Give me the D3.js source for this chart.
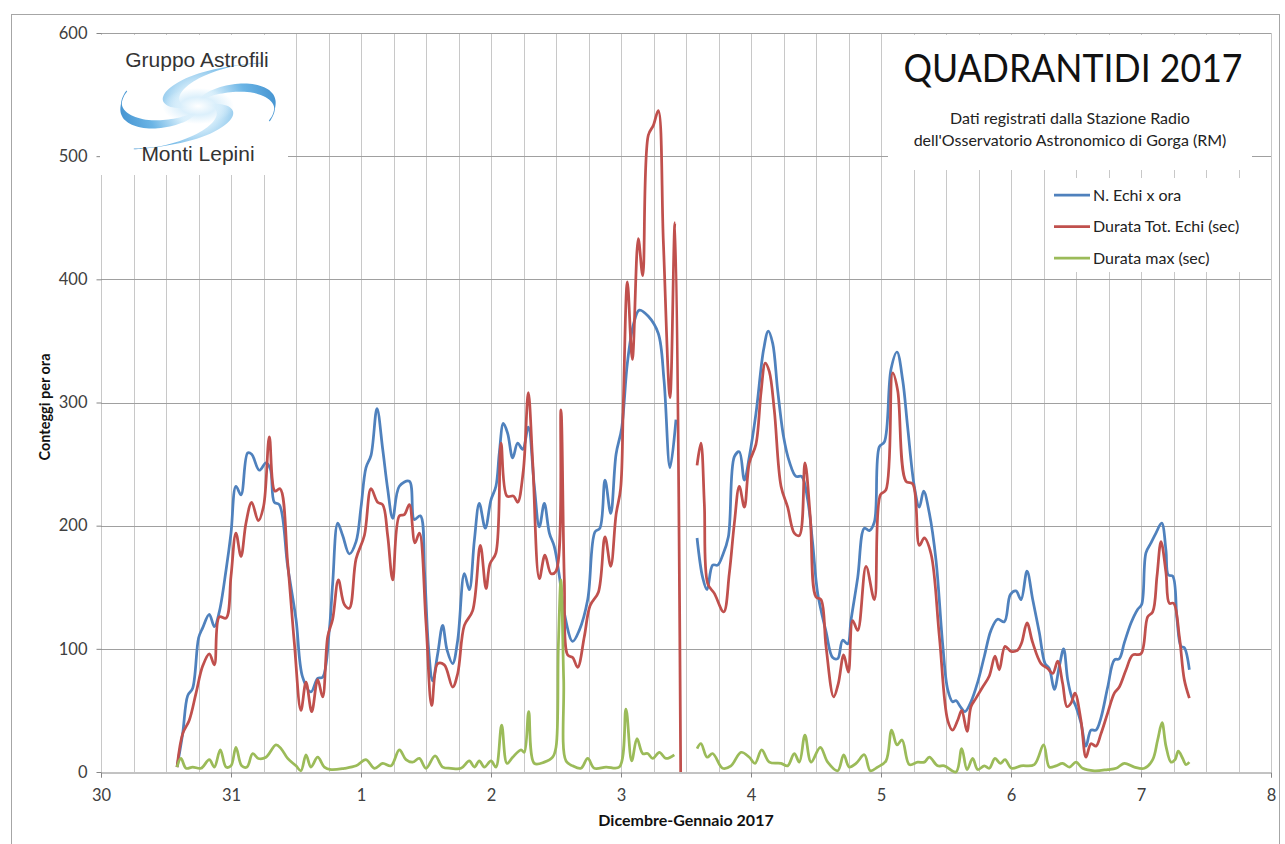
<!DOCTYPE html>
<html>
<head>
<meta charset="utf-8">
<script src="https://cdn.jsdelivr.net/npm/d3@7"></script>
<style>
  body { margin: 0; background: #fff; }
  svg { display: block; font-family: Lato, 'Open Sans', sans-serif; }
</style>
</head>
<body>
<div id="chart"></div>
<script>
// time = days since 30 Dec 00:00, value = counts per hour; null = gap in data
const dayLabels = ['30', '31', '1', '2', '3', '4', '5', '6', '7', '8'];
const yTicks = [0, 100, 200, 300, 400, 500, 600];
const seriesNames = ['N. Echi x ora', 'Durata Tot. Echi (sec)', 'Durata max (sec)'];
const seriesColors = ['#4f81bd', '#c0504d', '#9bbb59'];

const echi = [[0.585,4],[0.628,31],[0.667,62],[0.705,68],[0.751,109],[0.782,117],[0.833,128],[0.872,118],[0.91,130],[0.962,164],[1.0,194],[1.038,232],[1.077,225],[1.128,259],[1.159,258],[1.218,245],[1.269,251],[1.303,246],[1.333,219],[1.372,217],[1.436,167],[1.5,124],[1.551,77],[1.615,65],[1.667,76],[1.705,77],[1.756,115],[1.782,153],[1.821,202],[1.859,192],[1.91,177],[1.962,187],[2.0,215],[2.038,247],[2.077,257],[2.123,295],[2.167,262],[2.205,230],[2.244,206],[2.295,232],[2.372,236],[2.41,205],[2.456,208],[2.49,160],[2.52,100],[2.551,74],[2.59,96],[2.628,119],[2.662,99],[2.705,88],[2.744,107],[2.795,161],[2.833,148],[2.872,188],[2.91,218],[2.956,198],[3.0,221],[3.038,232],[3.064,259],[3.095,283],[3.128,275],[3.167,255],[3.205,267],[3.244,262],[3.287,280],[3.333,232],[3.372,199],[3.41,218],[3.449,194],[3.487,183],[3.526,159],[3.564,129],[3.628,106],[3.679,115],[3.744,140],[3.8,195],[3.838,198],[3.877,237],[3.921,210],[3.962,258],[4.005,279],[4.049,332],[4.095,363],[4.141,375],[4.21,370],[4.287,356],[4.331,318],[4.377,247],[4.423,286],[4.5,null],[4.585,190],[4.628,158],[4.662,148],[4.705,168],[4.744,168],[4.782,176],[4.826,191],[4.872,256],[4.91,260],[4.949,237],[4.987,256],[5.038,291],[5.097,343],[5.133,358],[5.167,348],[5.205,310],[5.251,272],[5.295,252],[5.346,240],[5.39,240],[5.436,221],[5.474,186],[5.513,145],[5.577,114],[5.628,93],[5.667,92],[5.705,107],[5.744,104],[5.769,123],[5.821,158],[5.872,198],[5.91,196],[5.949,203],[5.987,264],[6.026,268],[6.077,327],[6.123,341],[6.167,318],[6.205,280],[6.256,232],[6.295,215],[6.328,228],[6.372,210],[6.423,172],[6.475,103],[6.513,67],[6.551,57],[6.577,58],[6.61,53],[6.646,49],[6.692,57],[6.744,73],[6.795,94],[6.846,115],[6.897,124],[6.949,122],[6.995,144],[7.038,147],[7.077,140],[7.123,163],[7.167,140],[7.218,113],[7.262,88],[7.295,84],[7.333,67],[7.372,86],[7.405,100],[7.436,75],[7.467,61],[7.5,53],[7.538,40],[7.577,21],[7.615,34],[7.654,34],[7.692,44],[7.744,69],[7.795,91],[7.833,92],[7.872,105],[7.923,121],[7.974,132],[8.005,136],[8.038,178],[8.077,186],[8.115,194],[8.159,202],[8.192,180],[8.21,160],[8.244,159],[8.277,124],[8.308,102],[8.333,101],[8.372,83]];

const durataTot = [[0.585,4],[0.628,31],[0.679,42],[0.731,64],[0.782,86],[0.833,96],[0.872,87],[0.91,126],[0.962,125],[1.0,159],[1.038,194],[1.077,175],[1.115,202],[1.159,219],[1.21,204],[1.251,216],[1.295,272],[1.338,228],[1.377,230],[1.436,170],[1.487,105],[1.538,50],[1.577,73],[1.621,49],[1.667,75],[1.705,61],[1.744,110],[1.782,124],[1.826,156],[1.872,136],[1.91,133],[1.962,173],[2.026,192],[2.077,230],[2.128,219],[2.167,217],[2.205,192],[2.244,156],[2.295,208],[2.333,209],[2.372,217],[2.415,186],[2.449,194],[2.5,121],[2.544,54],[2.59,88],[2.641,87],[2.705,69],[2.744,80],[2.795,119],[2.859,131],[2.918,184],[2.962,149],[2.992,169],[3.038,178],[3.077,267],[3.123,224],[3.174,224],[3.205,219],[3.249,245],[3.287,308],[3.321,251],[3.372,157],[3.415,176],[3.462,161],[3.5,163],[3.538,294],[3.564,156],[3.59,95],[3.628,93],[3.667,85],[3.718,110],[3.762,135],[3.826,146],[3.877,191],[3.921,167],[3.962,209],[3.997,230],[4.018,300],[4.049,398],[4.087,335],[4.133,433],[4.167,403],[4.21,517],[4.249,525],[4.287,537],[4.326,430],[4.377,304],[4.415,446],[4.459,0],[4.5,null],[4.585,249],[4.615,267],[4.641,218],[4.667,153],[4.718,145],[4.79,130],[4.833,161],[4.872,202],[4.91,232],[4.949,215],[4.987,251],[5.038,266],[5.077,308],[5.11,332],[5.141,325],[5.179,294],[5.231,232],[5.282,215],[5.333,194],[5.372,192],[5.415,251],[5.456,207],[5.5,142],[5.538,140],[5.577,102],[5.636,61],[5.672,72],[5.713,95],[5.749,81],[5.782,123],[5.821,115],[5.885,167],[5.949,140],[5.995,225],[6.038,229],[6.09,324],[6.128,310],[6.192,236],[6.244,234],[6.295,184],[6.333,190],[6.385,177],[6.449,110],[6.513,42],[6.551,34],[6.59,42],[6.621,50],[6.662,33],[6.692,53],[6.731,60],[6.782,69],[6.833,78],[6.877,94],[6.91,83],[6.954,102],[7.0,98],[7.051,99],[7.082,105],[7.123,121],[7.167,105],[7.231,88],[7.282,84],[7.321,80],[7.359,90],[7.397,72],[7.431,53],[7.462,56],[7.492,64],[7.538,42],[7.577,12],[7.615,23],[7.654,21],[7.692,31],[7.744,48],[7.795,64],[7.833,69],[7.885,83],[7.936,95],[8.0,96],[8.051,126],[8.09,130],[8.123,159],[8.154,187],[8.192,162],[8.218,137],[8.251,137],[8.295,110],[8.333,75],[8.372,60]];

const durataMax = [[0.585,4],[0.615,11],[0.654,3],[0.705,4],[0.769,3],[0.833,10],[0.872,4],[0.918,18],[0.962,4],[1.0,5],[1.038,20],[1.082,5],[1.123,4],[1.167,15],[1.21,11],[1.269,12],[1.346,22],[1.385,19],[1.436,11],[1.5,5],[1.538,1],[1.577,14],[1.615,4],[1.667,12],[1.718,4],[1.769,2],[1.872,3],[1.962,5],[2.038,10],[2.103,3],[2.167,7],[2.231,5],[2.295,18],[2.346,10],[2.397,8],[2.449,11],[2.5,3],[2.57,13],[2.628,4],[2.692,3],[2.769,3],[2.833,9],[2.872,4],[2.91,9],[2.949,4],[3.0,9],[3.038,4],[3.082,38],[3.123,7],[3.167,12],[3.231,18],[3.256,16],[3.29,49],[3.333,7],[3.41,8],[3.474,12],[3.5,20],[3.518,102],[3.538,156],[3.559,75],[3.577,9],[3.628,5],[3.692,3],[3.744,11],[3.795,3],[3.885,4],[3.987,4],[4.038,51],[4.082,9],[4.123,27],[4.167,15],[4.205,15],[4.244,11],[4.295,16],[4.346,11],[4.41,14],[4.5,null],[4.585,19],[4.615,23],[4.662,12],[4.705,15],[4.782,3],[4.846,5],[4.923,16],[4.987,12],[5.031,7],[5.082,18],[5.141,8],[5.231,7],[5.282,5],[5.333,15],[5.372,8],[5.415,30],[5.462,8],[5.533,20],[5.59,8],[5.667,1],[5.713,14],[5.756,4],[5.808,7],[5.872,14],[5.918,1],[5.974,4],[6.038,9],[6.082,34],[6.123,22],[6.162,26],[6.218,6],[6.282,8],[6.333,8],[6.372,12],[6.436,5],[6.487,5],[6.577,0],[6.621,19],[6.662,2],[6.705,11],[6.744,2],[6.795,5],[6.833,3],[6.877,11],[6.918,7],[6.954,10],[7.005,3],[7.077,5],[7.179,6],[7.251,22],[7.295,4],[7.346,5],[7.397,7],[7.449,4],[7.5,8],[7.551,3],[7.641,1],[7.744,2],[7.808,3],[7.872,7],[7.949,4],[8.026,3],[8.09,10],[8.128,26],[8.162,40],[8.192,21],[8.231,8],[8.262,10],[8.287,17],[8.321,11],[8.346,6],[8.372,8]];

const series = [echi, durataTot, durataMax];

const width = 1285, height = 844;

const svg = d3.select('#chart').append('svg')
  .attr('width', width)
  .attr('height', height);

svg.append('rect')
  .attr('x', 11.5).attr('y', 14.5)
  .attr('width', 1268).attr('height', 840)
  .attr('fill', '#fff')
  .attr('stroke', '#a6a6a6');

const x = d3.scaleLinear([0, 9], [101, 1271]);
const y = d3.scaleLinear([0, 600], [772, 33]);

// gridlines
const grid = svg.append('g');
grid.selectAll('line.v')
  .data(d3.range(0, 37).map(i => i / 4))
  .join('line')
    .attr('class', 'v')
    .attr('x1', d => Math.round(x(d)) + 0.5)
    .attr('x2', d => Math.round(x(d)) + 0.5)
    .attr('y1', y(600))
    .attr('y2', y(0))
    .attr('stroke', '#c8c8c8');

grid.selectAll('line.h')
  .data(yTicks.slice(1))
  .join('line')
    .attr('class', 'h')
    .attr('x1', x(0))
    .attr('x2', x(9))
    .attr('y1', d => Math.round(y(d)) + 0.5)
    .attr('y2', d => Math.round(y(d)) + 0.5)
    .attr('stroke', '#a0a0a0');

// axes
const xAxis = svg.append('g')
  .attr('transform', `translate(0,${Math.round(y(0)) + 0.5})`)
  .call(d3.axisBottom(x)
    .tickValues(d3.range(0, 10))
    .tickFormat(i => dayLabels[i])
    .tickSize(5)
    .tickPadding(12));
xAxis.select('.domain').attr('stroke', '#868686');
xAxis.selectAll('.tick line').attr('stroke', '#868686');

const yAxis = svg.append('g')
  .attr('transform', `translate(${Math.round(x(0)) + 0.5},0)`)
  .call(d3.axisLeft(y)
    .tickValues(yTicks)
    .tickSize(5)
    .tickPadding(9));
yAxis.select('.domain').remove();
yAxis.selectAll('.tick line').attr('stroke', '#868686');

svg.selectAll('.tick text')
  .attr('font-family', "Lato, 'Open Sans', sans-serif")
  .attr('font-size', 16.5)
  .attr('fill', '#404040');

svg.append('text')
  .attr('x', 686).attr('y', 826)
  .attr('text-anchor', 'middle')
  .attr('font-size', 16)
  .attr('font-weight', 'bold')
  .attr('fill', '#111')
  .text('Dicembre-Gennaio 2017');

svg.append('text')
  .attr('transform', 'translate(50,407) rotate(-90)')
  .attr('text-anchor', 'middle')
  .attr('font-size', 14.5)
  .attr('font-weight', 'bold')
  .attr('fill', '#111')
  .text('Conteggi per ora');

// white boxes over the grid (logo, title, legend)
svg.append('rect').attr('x', 100).attr('y', 35).attr('width', 188).attr('height', 140).attr('fill', '#fff');
svg.append('rect').attr('x', 888).attr('y', 35).attr('width', 364).attr('height', 135).attr('fill', '#fff');
svg.append('rect').attr('x', 1048).attr('y', 178).attr('width', 207).attr('height', 94).attr('fill', '#fff');

// lines
const line = d3.line()
  .defined(d => d[1] !== null)
  .x(d => x(d[0]))
  .y(d => y(d[1]))
  .curve(d3.curveCatmullRom.alpha(0.5));

svg.append('g')
  .selectAll('path')
  .data(series)
  .join('path')
    .attr('d', line)
    .attr('fill', 'none')
    .attr('stroke', (d, i) => seriesColors[i])
    .attr('stroke-width', 2.75)
    .attr('stroke-linejoin', 'round');

// title
svg.append('text')
  .attr('x', 1073).attr('y', 82)
  .attr('text-anchor', 'middle')
  .attr('font-size', 38)
  .attr('fill', '#111')
  .attr('textLength', 339)
  .attr('lengthAdjust', 'spacingAndGlyphs')
  .text('QUADRANTIDI 2017');

svg.append('text')
  .attr('x', 1070).attr('y', 124)
  .attr('text-anchor', 'middle')
  .attr('font-size', 16)
  .attr('fill', '#222')
  .text('Dati registrati dalla Stazione Radio');

svg.append('text')
  .attr('x', 1070).attr('y', 146)
  .attr('text-anchor', 'middle')
  .attr('font-size', 16)
  .attr('fill', '#222')
  .text("dell'Osservatorio Astronomico di Gorga (RM)");

// legend
const legend = svg.append('g')
  .selectAll('g')
  .data(seriesNames)
  .join('g')
    .attr('transform', (d, i) => `translate(1054,${195 + i * 31.5})`);

legend.append('line')
  .attr('x1', 0).attr('x2', 36)
  .attr('stroke', (d, i) => seriesColors[i])
  .attr('stroke-width', 2.75);

legend.append('text')
  .attr('x', 39).attr('dy', '0.35em')
  .attr('font-size', 16)
  .attr('fill', '#222')
  .text(d => d);

// logo
const logo = svg.append('g');
const defs = svg.append('defs');
const grad = defs.append('radialGradient')
  .attr('id', 'swirl')
  .attr('gradientUnits', 'userSpaceOnUse')
  .attr('cx', 198).attr('cy', 107).attr('r', 98);
grad.selectAll('stop')
  .data([[0, '#ffffff'], [0.2, '#d6eefb'], [0.5, '#5eaee3'], [1, '#1b74bf']])
  .join('stop')
    .attr('offset', d => d[0])
    .attr('stop-color', d => d[1]);

const glow = defs.append('radialGradient').attr('id', 'glow');
glow.selectAll('stop')
  .data([[0, '#ffffff', 1], [0.5, '#d8eefb', 0.9], [1, '#d8eefb', 0]])
  .join('stop')
    .attr('offset', d => d[0])
    .attr('stop-color', d => d[1])
    .attr('stop-opacity', d => d[2]);

const armPath = k => {
  const cx = 198, cy = 106, tilt = -0.22;
  const pt = (s, off) => {
    const th = k * Math.PI / 2 + s * 2.4;
    const r = 4 + 94 * s + off;
    const px = r * Math.cos(th), py = r * Math.sin(th) * 0.42;
    return [cx + px * Math.cos(tilt) - py * Math.sin(tilt), cy + px * Math.sin(tilt) + py * Math.cos(tilt)];
  };
  const steps = d3.range(0, 1.0001, 0.04);
  const w = s => 30 * Math.sin(Math.PI * Math.min(s * 1.15, 1)) * (1 - 0.55 * s) + 1;
  const outer = steps.map(s => pt(s, w(s) / 2));
  const inner = steps.slice().reverse().map(s => pt(s, -w(s) / 2));
  return d3.line().curve(d3.curveCatmullRom)(outer.concat(inner)) + 'Z';
};

logo.selectAll('path')
  .data(d3.range(4))
  .join('path')
    .attr('d', armPath)
    .attr('fill', 'url(#swirl)')
    .attr('opacity', 0.92);

logo.append('ellipse')
  .attr('cx', 198).attr('cy', 106)
  .attr('rx', 36).attr('ry', 18)
  .attr('fill', 'url(#glow)');

logo.append('text')
  .attr('x', 197).attr('y', 67)
  .attr('text-anchor', 'middle')
  .attr('font-family', "'Liberation Sans', Arial, sans-serif")
  .attr('font-size', 21)
  .attr('fill', '#333')
  .text('Gruppo Astrofili');

logo.append('text')
  .attr('x', 198).attr('y', 161)
  .attr('text-anchor', 'middle')
  .attr('font-family', "'Liberation Sans', Arial, sans-serif")
  .attr('font-size', 21)
  .attr('fill', '#333')
  .text('Monti Lepini');
</script>
</body>
</html>
